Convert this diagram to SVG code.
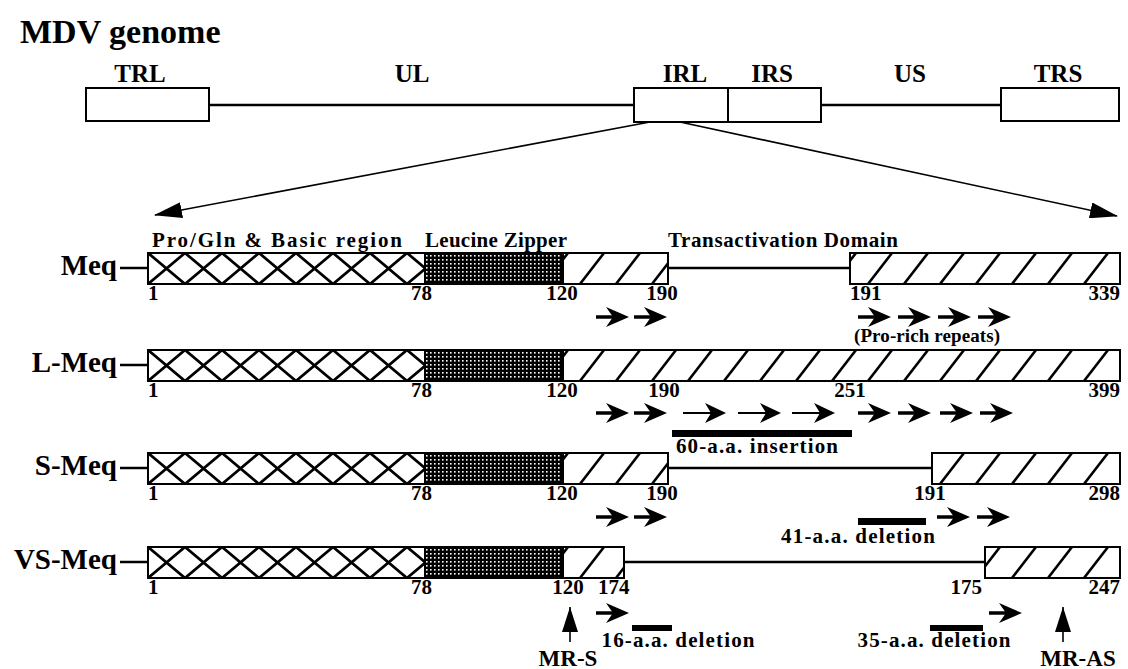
<svg xmlns="http://www.w3.org/2000/svg" width="1128" height="669" viewBox="0 0 1128 669">
<style>
text{font-family:"Liberation Serif","Times New Roman",serif;font-weight:bold;fill:#000}
.ttl{font-size:34px}
.lbl{font-size:25px;text-anchor:middle}
.row{font-size:29px;text-anchor:end}
.num{font-size:21px}
.mid{text-anchor:middle}
.end{text-anchor:end}
.hdr{font-size:21px}
.ann{font-size:21px;text-anchor:middle}
.ln{stroke:#000;stroke-width:2.5;fill:none}
.bx{stroke:#000;stroke-width:2}
.gb{fill:#fff;stroke:#000;stroke-width:2}
</style>
<defs>
<pattern id="xh" patternUnits="userSpaceOnUse" x="148" y="0" width="37" height="31"><rect width="37" height="31" fill="#fff"/><path d="M0,0L37,31M37,0L0,31" stroke="#000" stroke-width="2.8"/></pattern>
<pattern id="gr" patternUnits="userSpaceOnUse" x="0" y="0" width="4" height="4"><rect width="4" height="4" fill="#000"/><rect x="2" y="2" width="1.6" height="1.6" fill="#fff"/></pattern>
<pattern id="dh" patternUnits="userSpaceOnUse" x="0" y="0" width="36" height="31"><rect width="36" height="31" fill="#fff"/><path d="M4,31L28,0" stroke="#000" stroke-width="2.6"/></pattern>
<marker id="ah" markerUnits="userSpaceOnUse" markerWidth="28" markerHeight="16" refX="27" refY="8" orient="auto"><path d="M0,0L28,8L0,16Z" fill="#000"/></marker>
<g id="ar"><path d="M0,0H22" stroke="#000" stroke-width="3.5"/><path d="M10,-10L33,0L10,10L17,0Z" fill="#000"/></g>
<g id="art"><path d="M0,0H34" stroke="#000" stroke-width="1.8"/><path d="M22,-10L43,0L22,10L28,0Z" fill="#000"/></g>
<g id="up"><path d="M0,0V35" stroke="#000" stroke-width="1.6"/><path d="M-8,25L0,0L8,25Z" fill="#000"/></g>
</defs>

<text class="ttl" x="20" y="43">MDV genome</text>

<g id="genome">
<text class="lbl" x="140" y="82">TRL</text>
<text class="lbl" x="412" y="82">UL</text>
<text class="lbl" x="685" y="82">IRL</text>
<text class="lbl" x="772" y="82">IRS</text>
<text class="lbl" x="910" y="82">US</text>
<text class="lbl" x="1058" y="82">TRS</text>
<path class="ln" d="M209,105H634M821,105H1001"/>
<g id="trl"><rect class="gb" x="86" y="88" width="123" height="33"/></g>
<g id="irl"><rect class="gb" x="634" y="88" width="94" height="34"/></g>
<g id="irs"><rect class="gb" x="728" y="88" width="93" height="34"/></g>
<g id="trs"><rect class="gb" x="1001" y="88" width="118" height="33"/></g>
</g>

<g id="connectors">
<path d="M650,122L155,215" stroke="#000" stroke-width="1.6" marker-end="url(#ah)"/>
<path d="M680,122L1117,216" stroke="#000" stroke-width="1.6" marker-end="url(#ah)"/>
</g>

<g id="headers">
<text class="hdr" x="152" y="247" textLength="250" lengthAdjust="spacing">Pro/Gln &amp; Basic region</text>
<text class="hdr" x="425" y="247" textLength="142" lengthAdjust="spacing">Leucine Zipper</text>
<text class="hdr" x="668" y="247" textLength="230" lengthAdjust="spacing">Transactivation Domain</text>
</g>

<g id="meq" transform="translate(0,253)">
<text class="row" x="117" y="22">Meq</text>
<path class="ln" d="M120,15H148M668,15H850"/>
<rect class="bx" x="148" y="0" width="277" height="31" fill="url(#xh)"/>
<rect class="bx" x="425" y="0" width="138" height="31" fill="url(#gr)"/>
<rect class="bx" x="563" y="0" width="105" height="31" fill="url(#dh)"/>
<rect class="bx" x="850" y="0" width="270" height="31" fill="url(#dh)"/>
<text class="num" x="148" y="47">1</text>
<text class="num end" x="432" y="47">78</text>
<text class="num mid" x="562" y="47">120</text>
<text class="num mid" x="662" y="47">190</text>
<text class="num" x="850" y="47">191</text>
<text class="num end" x="1120" y="47">339</text>
</g>
<g id="meq-repeats">
<use href="#ar" x="596" y="317"/><use href="#ar" x="634" y="317"/>
<use href="#ar" x="858" y="317"/><use href="#ar" x="898" y="317"/><use href="#ar" x="938" y="317"/><use href="#ar" x="978" y="317"/>
<text class="mid" x="927" y="342" style="font-size:19px" textLength="146" lengthAdjust="spacing">(Pro-rich repeats)</text>
</g>

<g id="lmeq" transform="translate(0,350)">
<text class="row" x="117" y="22">L-Meq</text>
<path class="ln" d="M120,15H148"/>
<rect class="bx" x="148" y="0" width="277" height="31" fill="url(#xh)"/>
<rect class="bx" x="425" y="0" width="138" height="31" fill="url(#gr)"/>
<rect class="bx" x="563" y="0" width="557" height="31" fill="url(#dh)"/>
<text class="num" x="148" y="47">1</text>
<text class="num end" x="432" y="47">78</text>
<text class="num mid" x="562" y="47">120</text>
<text class="num mid" x="664" y="47">190</text>
<text class="num mid" x="850" y="47">251</text>
<text class="num end" x="1120" y="47">399</text>
</g>
<g id="lmeq-repeats">
<use href="#ar" x="596" y="413"/><use href="#ar" x="634" y="413"/>
<use href="#art" x="683" y="413"/><use href="#art" x="738" y="413"/><use href="#art" x="792" y="413"/>
<use href="#ar" x="858" y="413"/><use href="#ar" x="898" y="413"/><use href="#ar" x="940" y="413"/><use href="#ar" x="980" y="413"/>
<rect x="672" y="430" width="180" height="7" fill="#000"/>
<text class="ann" x="757" y="453" textLength="162" lengthAdjust="spacing">60-a.a. insertion</text>
</g>

<g id="smeq" transform="translate(0,453)">
<text class="row" x="117" y="22">S-Meq</text>
<path class="ln" d="M120,15H148M668,15H932"/>
<rect class="bx" x="148" y="0" width="277" height="31" fill="url(#xh)"/>
<rect class="bx" x="425" y="0" width="138" height="31" fill="url(#gr)"/>
<rect class="bx" x="563" y="0" width="105" height="31" fill="url(#dh)"/>
<rect class="bx" x="932" y="0" width="188" height="31" fill="url(#dh)"/>
<text class="num" x="148" y="47">1</text>
<text class="num end" x="432" y="47">78</text>
<text class="num mid" x="562" y="47">120</text>
<text class="num mid" x="662" y="47">190</text>
<text class="num mid" x="930" y="47">191</text>
<text class="num end" x="1120" y="47">298</text>
</g>
<g id="smeq-repeats">
<use href="#ar" x="596" y="517"/><use href="#ar" x="634" y="517"/>
<use href="#ar" x="937" y="517"/><use href="#ar" x="977" y="517"/>
<rect x="858" y="518" width="68" height="7" fill="#000"/>
<text class="ann" x="858" y="543" textLength="154" lengthAdjust="spacing">41-a.a. deletion</text>
</g>

<g id="vsmeq" transform="translate(0,547)">
<text class="row" x="117" y="22">VS-Meq</text>
<path class="ln" d="M120,15H148M624,15H985"/>
<rect class="bx" x="148" y="0" width="277" height="31" fill="url(#xh)"/>
<rect class="bx" x="425" y="0" width="138" height="31" fill="url(#gr)"/>
<rect class="bx" x="563" y="0" width="61" height="31" fill="url(#dh)"/>
<rect class="bx" x="985" y="0" width="135" height="31" fill="url(#dh)"/>
<text class="num" x="148" y="47">1</text>
<text class="num end" x="432" y="47">78</text>
<text class="num mid" x="568" y="47">120</text>
<text class="num" x="598" y="47">174</text>
<text class="num end" x="982" y="47">175</text>
<text class="num end" x="1120" y="47">247</text>
</g>
<g id="vsmeq-marks">
<use href="#ar" x="596" y="613"/>
<use href="#ar" x="989" y="613"/>
<rect x="632" y="625" width="40" height="6" fill="#000"/>
<rect x="930" y="625" width="53" height="6" fill="#000"/>
<text class="ann" x="678" y="647" textLength="153" lengthAdjust="spacing">16-a.a. deletion</text>
<text class="ann" x="934" y="647" textLength="153" lengthAdjust="spacing">35-a.a. deletion</text>
</g>

<g id="mr-s">
<use href="#up" x="570" y="607"/>
<text class="ann" x="568" y="666" style="font-size:23px">MR-S</text>
</g>
<g id="mr-as">
<use href="#up" x="1063" y="607"/>
<text class="ann" x="1078" y="666" style="font-size:23px">MR-AS</text>
</g>
</svg>
